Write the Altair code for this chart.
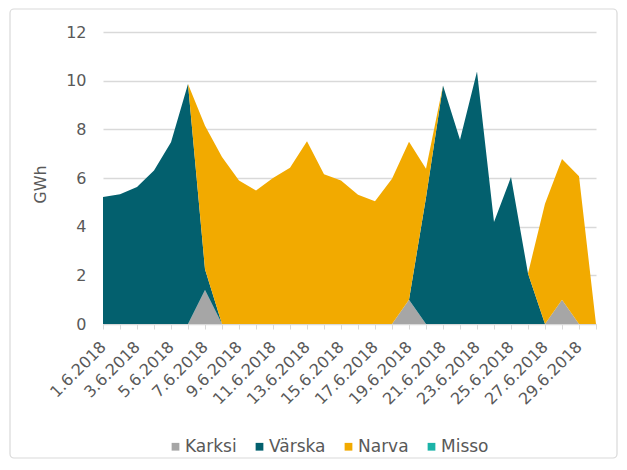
import altair as alt
import pandas as pd

days = ["1.6.2018", "2.6.2018", "3.6.2018", "4.6.2018", "5.6.2018", "6.6.2018",
        "7.6.2018", "8.6.2018", "9.6.2018", "10.6.2018", "11.6.2018", "12.6.2018",
        "13.6.2018", "14.6.2018", "15.6.2018", "16.6.2018", "17.6.2018", "18.6.2018",
        "19.6.2018", "20.6.2018", "21.6.2018", "22.6.2018", "23.6.2018", "24.6.2018",
        "25.6.2018", "26.6.2018", "27.6.2018", "28.6.2018", "29.6.2018", "30.6.2018"]

series = ["Karksi", "Värska", "Narva", "Misso"]
colors = ["#a6a6a6", "#03606e", "#f2aa00", "#1bb3a8"]

karksi = [0, 0, 0, 0, 0, 0, 1.4, 0, 0, 0, 0, 0, 0, 0, 0, 0, 0, 0, 1.0, 0,
          0, 0, 0, 0, 0, 0, 0, 1.0, 0, 0]
varska = [5.22, 5.33, 5.63, 6.31, 7.47, 9.86, 0.85, 0, 0, 0, 0, 0, 0, 0, 0, 0, 0, 0, 0, 5.2,
          9.8, 7.57, 10.38, 4.19, 6.04, 2.08, 0, 0, 0, 0]
narva = [0, 0, 0, 0, 0, 0, 5.9, 6.86, 5.9, 5.49, 6.0, 6.42, 7.51, 6.15, 5.9, 5.31, 5.04, 5.97, 6.49, 1.18,
         0, 0, 0, 0, 0, 0, 4.94, 5.78, 6.07, 0]
misso = [0] * 30

rows = []
for si, (name, vals) in enumerate(zip(series, [karksi, varska, narva, misso])):
    for d, v in zip(days, vals):
        rows.append({"date": d, "series": name, "value": v, "order": si})
df = pd.DataFrame(rows)

TXT = "#595959"
GRID = "#d9d9d9"
FONT = "DejaVu Sans"

area = alt.Chart(df).mark_area(opacity=1).encode(
    x=alt.X("date:O", sort=days,
            scale=alt.Scale(type="point", padding=0),
            axis=alt.Axis(title=None, labelAngle=315, labelAlign="right", labelBaseline="middle",
                          labelPadding=15, labelFontSize=16, labelFont=FONT, labelColor=TXT,
                          labelExpr="parseInt(split(datum.value, '.')[0]) % 2 == 1 ? datum.value : ''",
                          labelOverlap=False, domainColor=GRID, tickColor=GRID, tickSize=5,
                          grid=False)),
    y=alt.Y("value:Q", stack="zero",
            scale=alt.Scale(domain=[0, 12], nice=False),
            axis=alt.Axis(values=[0, 2, 4, 6, 8, 10, 12], domain=False, ticks=False,
                          labelPadding=17, labelFontSize=16, labelFont=FONT, labelColor=TXT,
                          gridColor=GRID, gridWidth=1.3,
                          title="GWh", titleFontSize=16, titleFont=FONT, titleFontWeight="normal",
                          titleColor=TXT, titleX=-63, titleY=152, titleAngle=270,
                          titleAlign="center", titleBaseline="middle")),
    color=alt.Color("series:N",
                    scale=alt.Scale(domain=series, range=colors),
                    legend=alt.Legend(title=None, orient="none", legendX=64, legendY=406,
                                      direction="horizontal", symbolType="square", symbolSize=60,
                                      symbolStrokeWidth=0, labelFontSize=17, labelFont=FONT,
                                      labelColor=TXT, columnPadding=14, labelOffset=1)),
    order=alt.Order("order:Q", sort="ascending"),
)

border_df = pd.DataFrame({"k": [0]})
border = alt.Chart(border_df).mark_rect(filled=False, stroke=GRID, strokeWidth=1.2,
                                        cornerRadius=4).encode(
    x=alt.value(-93), x2=alt.value(514), y=alt.value(-23), y2=alt.value(426)
)

chart = alt.layer(border, area).properties(
    width=493, height=292,
    autosize=alt.AutoSizeParams(type="none"),
    padding={"left": 95, "top": 24, "right": 23, "bottom": 136},
).configure_view(stroke="transparent")

chart.save("out.html", embed_options={"renderer": "svg", "actions": False})
